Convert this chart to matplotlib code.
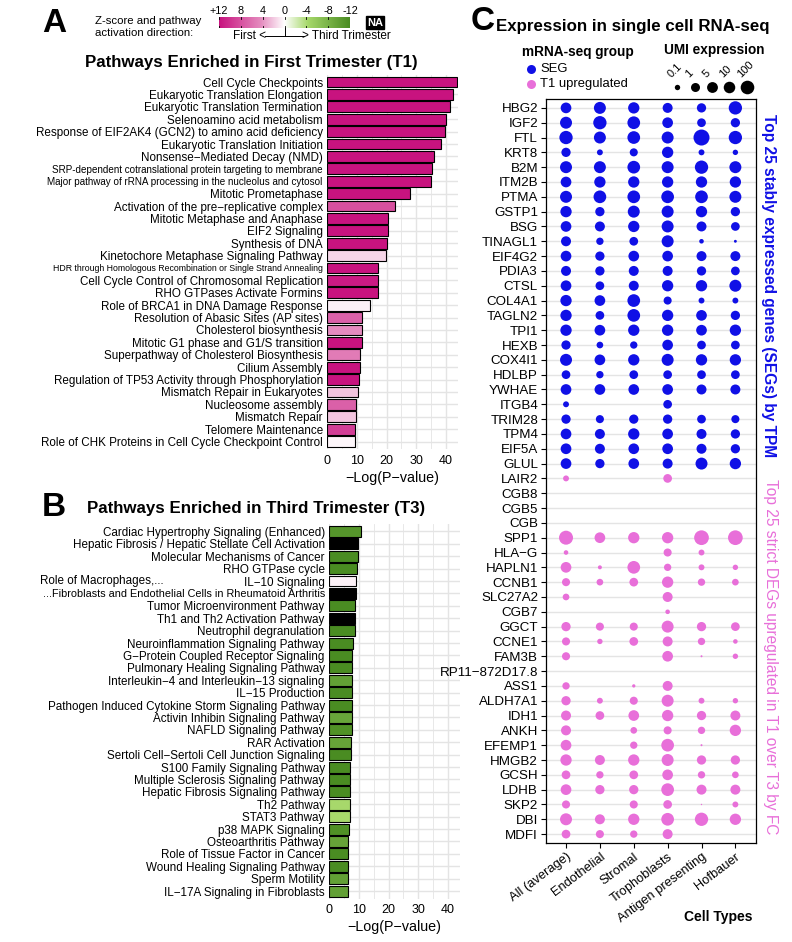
"""
Pathway enrichment (T1 / T3) bars and single-cell dot plot, rebuilt with matplotlib.
"""
import numpy as np
import matplotlib
matplotlib.use("Agg")
import matplotlib.pyplot as plt
from matplotlib import transforms
from matplotlib.colors import LinearSegmentedColormap

plt.rcParams["font.family"] = ["Liberation Sans", "DejaVu Sans"]

W, H = 792, 942
nan = np.nan

# ---- data: panel A (first trimester pathways) ----
t1_pathways = [
    "Cell Cycle Checkpoints",
    "Eukaryotic Translation Elongation",
    "Eukaryotic Translation Termination",
    "Selenoamino acid metabolism",
    "Response of EIF2AK4 (GCN2) to amino acid deficiency",
    "Eukaryotic Translation Initiation",
    "Nonsense\u2212Mediated Decay (NMD)",
    "SRP-dependent cotranslational protein targeting to membrane",
    "Major pathway of rRNA processing in the nucleolus and cytosol",
    "Mitotic Prometaphase",
    "Activation of the pre\u2212replicative complex",
    "Mitotic Metaphase and Anaphase",
    "EIF2 Signaling",
    "Synthesis of DNA",
    "Kinetochore Metaphase Signaling Pathway",
    "HDR through Homologous Recombination or Single Strand Annealing",
    "Cell Cycle Control of Chromosomal Replication",
    "RHO GTPases Activate Formins",
    "Role of BRCA1 in DNA Damage Response",
    "Resolution of Abasic Sites (AP sites)",
    "Cholesterol biosynthesis",
    "Mitotic G1 phase and G1/S transition",
    "Superpathway of Cholesterol Biosynthesis",
    "Cilium Assembly",
    "Regulation of TP53 Activity through Phosphorylation",
    "Mismatch Repair in Eukaryotes",
    "Nucleosome assembly",
    "Mismatch Repair",
    "Telomere Maintenance",
    "Role of CHK Proteins in Cell Cycle Checkpoint Control",
]
t1_logp = [43.8, 42.2, 41.3, 40.0, 39.5, 38.3, 35.8, 35.4, 34.9, 28.0,
           23.0, 20.4, 20.4, 20.1, 19.9, 17.1, 17.1, 17.0, 14.5, 11.8,
           11.8, 11.6, 11.2, 11.0, 10.7, 10.5, 9.7, 9.6, 9.4, 9.3]
t1_zscore = [12, 12, 12, 12, 12, 12, 12, 12, 12, 12,
             8.1, 12, 12, 12, 1.5, 12, 11.5, 12, 0.65, 7.1,
             4.4, 12, 5.4, 12, 12, 2.2, 7.1, 2.2, 9.2, 0.3]

# ---- data: panel B (third trimester pathways), None = NA ----
t3_pathways = [
    "Cardiac Hypertrophy Signaling (Enhanced)",
    "Hepatic Fibrosis / Hepatic Stellate Cell Activation",
    "Molecular Mechanisms of Cancer",
    "RHO GTPase cycle",
    "IL\u221210 Signaling",
    "...Fibroblasts and Endothelial Cells in Rheumatoid Arthritis",
    "Tumor Microenvironment Pathway",
    "Th1 and Th2 Activation Pathway",
    "Neutrophil degranulation",
    "Neuroinflammation Signaling Pathway",
    "G\u2212Protein Coupled Receptor Signaling",
    "Pulmonary Healing Signaling Pathway",
    "Interleukin\u22124 and Interleukin\u221213 signaling",
    "IL\u221215 Production",
    "Pathogen Induced Cytokine Storm Signaling Pathway",
    "Activin Inhibin Signaling Pathway",
    "NAFLD Signaling Pathway",
    "RAR Activation",
    "Sertoli Cell\u2212Sertoli Cell Junction Signaling",
    "S100 Family Signaling Pathway",
    "Multiple Sclerosis Signaling Pathway",
    "Hepatic Fibrosis Signaling Pathway",
    "Th2 Pathway",
    "STAT3 Pathway",
    "p38 MAPK Signaling",
    "Osteoarthritis Pathway",
    "Role of Tissue Factor in Cancer",
    "Wound Healing Signaling Pathway",
    "Sperm Motility",
    "IL\u221217A Signaling in Fibroblasts",
]
t3_logp = [10.6, 9.8, 9.8, 9.5, 9.1, 9.1, 8.9, 8.9, 8.8, 8.2,
           7.8, 7.8, 7.8, 7.8, 7.8, 7.8, 7.6, 7.3, 7.3, 7.2,
           7.2, 7.0, 7.0, 7.0, 6.7, 6.5, 6.3, 6.3, 6.3, 6.3]
t3_zscore = [-11, None, -12, -12, 0.5, None, -12, None, -12, -12,
             -12, -12, -10, -12, -12, -9.4, -11.5, -9.6, -12, -12,
             -12, -12, -4.3, -4.3, -11.5, -9.6, -12, -12, -10, -10]

# ---- data: panel C (UMI expression per cell type, nan = not detected) ----
cell_types = ["All (average)", "Endothelial", "Stromal", "Trophoblasts",
              "Antigen presenting", "Hofbauer"]
seg_genes = ["HBG2", "IGF2", "FTL", "KRT8", "B2M", "ITM2B", "PTMA", "GSTP1",
             "BSG", "TINAGL1", "EIF4G2", "PDIA3", "CTSL", "COL4A1", "TAGLN2",
             "TPI1", "HEXB", "COX4I1", "HDLBP", "YWHAE", "ITGB4", "TRIM28",
             "TPM4", "EIF5A", "GLUL"]
seg_umi = [
    [4.4, 16, 8, 2.3, 1.25, 70],
    [16, 70, 35, 4.4, 0.8, 1.25],
    [70, 16, 35, 16, 2300, 70],
    [1.25, 0.13, 0.5, 8, 0.13, 0.1],
    [16, 16, 35, 16, 70, 16],
    [4.4, 8, 8, 8, 8, 8],
    [16, 35, 35, 35, 35, 16],
    [8, 1.25, 16, 16, 8, 1.25],
    [4.4, 2.3, 8, 16, 2.3, 0.8],
    [2.3, 0.3, 0.8, 16, 0.07, 0.04],
    [4.4, 1.25, 4.4, 4.4, 2.3, 2.3],
    [2.3, 1.25, 2.3, 2.3, 1.25, 0.8],
    [4.4, 0.8, 2.3, 8, 8, 16],
    [8, 4.4, 35, 0.5, 0.13, 0.13],
    [8, 0.8, 35, 8, 4.4, 1.25],
    [8, 4.4, 8, 8, 4.4, 8],
    [1.25, 0.2, 0.3, 4.4, 0.8, 0.8],
    [16, 4.4, 8, 16, 8, 8],
    [0.8, 0.3, 0.8, 0.8, 0.8, 0.8],
    [4.4, 4.4, 4.4, 4.4, 2.3, 2.3],
    [0.13, nan, nan, 0.8, nan, nan],
    [1.25, 0.5, 1.25, 1.25, 0.8, 0.5],
    [4.4, 2.3, 8, 4.4, 2.3, 1.25],
    [4.4, 2.3, 4.4, 4.4, 2.3, 1.25],
    [4.4, 1.25, 4.4, 2.3, 16, 8],
]
deg_genes = ["LAIR2", "CGB8", "CGB5", "CGB", "SPP1", "HLA\u2212G", "HAPLN1",
             "CCNB1", "SLC27A2", "CGB7", "GGCT", "CCNE1", "FAM3B",
             "RP11\u2212872D17.8", "ASS1", "ALDH7A1", "IDH1", "ANKH", "EFEMP1",
             "HMGB2", "GCSH", "LDHB", "SKP2", "DBI", "MDFI"]
deg_umi = [
    [0.13, nan, nan, 0.8, nan, nan],
    [nan, nan, nan, nan, nan, nan],
    [nan, nan, nan, nan, nan, nan],
    [nan, nan, nan, nan, nan, nan],
    [160, 4.4, 8, 8, 400, 400],
    [0.07, nan, nan, 0.5, 0.13, nan],
    [4.4, 0.056, 35, 0.3, 0.13, 0.1],
    [0.5, 0.2, 0.8, 8, 0.3, 0.2],
    [0.2, nan, nan, 2.3, nan, nan],
    [nan, nan, nan, 0.07, nan, nan],
    [1.25, 0.5, 0.5, 16, 1.25, 0.8],
    [0.5, 0.1, 0.8, 2.3, 0.3, 0.07],
    [0.5, nan, nan, 4.4, 0.033, 0.1],
    [nan, nan, nan, nan, nan, nan],
    [0.3, nan, 0.045, 2.3, nan, nan],
    [1.25, 0.13, 0.5, 16, 0.13, 0.1],
    [2.3, 0.8, 4.4, 8, 1.25, 2.3],
    [2.3, nan, 0.2, 0.5, 0.3, 8],
    [4.4, nan, 0.3, 35, 0.033, nan],
    [8, 2.3, 8, 16, 1.25, 1.25],
    [0.8, 0.3, 0.8, 4.4, 0.3, 0.2],
    [4.4, 1.25, 1.25, 35, 2.3, 2.3],
    [0.5, nan, 0.5, 0.8, 0.03, 0.13],
    [16, 2.3, 8, 35, 70, 8],
    [0.8, 0.5, 0.3, 2.3, nan, nan],
]
umi_breaks = [0.1, 1, 5, 10, 100]
zscore_ticks = [12, 8, 4, 0, -4, -8, -12]

# ---- styles ----
SEG_COLOR = "#1010e6"
T1_COLOR = "#e86fd9"
GRID = "#e4e4e4"
zcmap = LinearSegmentedColormap.from_list(
    "zscore", [(0, "#4a8c22"), (0.32, "#a6d86a"), (0.5, "#ffffff"),
               (0.68, "#e58cbf"), (1, "#c8137f")])
small_labels = {
    "SRP-dependent cotranslational protein targeting to membrane": 7.1,
    "Major pathway of rRNA processing in the nucleolus and cytosol": 7.1,
    "HDR through Homologous Recombination or Single Strand Annealing": 6.3,
    "...Fibroblasts and Endothelial Cells in Rheumatoid Arthritis": 7.8,
}


def px_axes(fig, x0, y0, x1, y1):
    """Axes from pixel box (top-left origin)."""
    return fig.add_axes([x0 / W, 1 - y1 / H, (x1 - x0) / W, (y1 - y0) / H])


def z_color(z):
    if z is None:
        return "black"
    return zcmap((np.clip(z, -12, 12) + 12) / 24)


def umi_size(umi):
    """UMI value -> scatter marker area (pt^2)."""
    area_px = np.maximum(81 + 52 * np.log10(umi), 1.5)
    return area_px * (72 / 100) ** 2


def pathway_panel(ax, names, logp, zs):
    y = np.arange(len(names))
    ax.barh(y, logp, height=0.88, color=[z_color(z) for z in zs],
            edgecolor="black", linewidth=0.8, zorder=3)
    ax.set_ylim(len(names) - 0.4, -0.6)
    ax.set_xlim(0, 44)
    ax.set_xticks([0, 10, 20, 30, 40])
    ax.set_xticks([5, 15, 25, 35], minor=True)
    ax.set_yticks(y)
    ax.set_yticklabels(names, fontsize=8.4)
    for lab in ax.get_yticklabels():
        if lab.get_text() in small_labels:
            lab.set_fontsize(small_labels[lab.get_text()])
    ax.set_axisbelow(True)
    ax.grid(which="major", color=GRID, linewidth=1.0)
    ax.grid(which="minor", axis="x", color=GRID, linewidth=0.6)
    for sp in ax.spines.values():
        sp.set_visible(False)
    ax.tick_params(which="both", length=0, pad=3)
    ax.tick_params(axis="x", labelsize=9, pad=4)
    ax.set_xlabel("\u2212Log(P\u2212value)", fontsize=10.3, labelpad=3)


fig = plt.figure(figsize=(W / 100, H / 100), dpi=100)

# ---- panel A ----
axA = px_axes(fig, 327, 74.6, 458, 449)
pathway_panel(axA, t1_pathways, t1_logp, t1_zscore)

# ---- panel B ----
axB = px_axes(fig, 329, 524, 460, 898.5)
pathway_panel(axB, t3_pathways, t3_logp, t3_zscore)
blend = transforms.blended_transform_factory(fig.transFigure, axB.transData)
axB.text(40 / W, t3_pathways.index("IL\u221210 Signaling"), "Role of Macrophages,...",
         transform=blend, ha="left", va="center", fontsize=8.4)

# ---- colour key for z-score ----
axK = px_axes(fig, 219, 17, 350, 28)
grad = np.linspace(12, -12, 256)[None, :]
axK.imshow(grad, cmap=zcmap, vmin=-12, vmax=12, aspect="auto",
           extent=[12, -12, 0, 1])
axK.set_xlim(12, -12)
axK.set_ylim(0, 1)
for z in zscore_ticks:
    axK.plot([z, z], [0.78, 1.0], color="black", lw=0.6)
    axK.plot([z, z], [0.0, 0.22], color="black", lw=0.6)
axK.set_xticks(zscore_ticks)
axK.set_xticklabels(["+12" if z == 12 else str(z) for z in zscore_ticks], fontsize=7.8)
axK.xaxis.set_ticks_position("top")
axK.tick_params(axis="x", length=0, pad=1)
axK.set_yticks([])
for sp in axK.spines.values():
    sp.set_visible(False)

# ---- panel C dot plot ----
axC = px_axes(fig, 545.7, 99, 755.7, 843)
genes = seg_genes + deg_genes
umi = np.array(seg_umi + deg_umi, dtype=float)
group = np.array([0] * len(seg_genes) + [1] * len(deg_genes))
rows, cols = np.meshgrid(np.arange(len(genes)), np.arange(len(cell_types)), indexing="ij")
ok = ~np.isnan(umi)
dot_colors = np.where(group[rows[ok]] == 0, SEG_COLOR, T1_COLOR)
axC.set_axisbelow(True)
for r in range(len(genes)):
    axC.axhline(r, color=GRID, lw=1.0, zorder=0)
axC.scatter(cols[ok] + 1, rows[ok], s=umi_size(umi[ok]), c=list(dot_colors),
            linewidths=0, zorder=3)
axC.set_xlim(0.4, len(cell_types) + 0.6)
axC.set_ylim(len(genes) - 0.4, -0.6)
axC.set_yticks(np.arange(len(genes)))
axC.set_yticklabels(genes, fontsize=9.6)
axC.set_xticks(np.arange(1, len(cell_types) + 1))
axC.set_xticklabels(cell_types, fontsize=9.3, rotation=37, ha="right", va="top",
                    rotation_mode="anchor")
axC.tick_params(length=3.5, width=0.8, pad=2)
for sp in axC.spines.values():
    sp.set_linewidth(0.9)
side = transforms.blended_transform_factory(axC.transAxes, axC.transData)
axC.text(1.063, (len(seg_genes) - 1) / 2, "Top 25 stably expressed genes (SEGs) by TPM",
         transform=side, rotation=270, ha="center", va="center", fontsize=11.2,
         fontweight="bold", color=SEG_COLOR)
axC.text(1.07, len(seg_genes) + (len(deg_genes) - 1) / 2,
         "Top 25 strict DEGs upregulated in T1 over T3 by FC",
         transform=side, rotation=270, ha="center", va="center", fontsize=11.2,
         color=T1_COLOR)

# ---- overlay for titles, letters and legends (pixel coordinates) ----
ov = fig.add_axes([0, 0, 1, 1])
ov.set_xlim(0, W)
ov.set_ylim(H, 0)
ov.axis("off")

for letter, x, y in [("A", 54, 23), ("B", 54, 508), ("C", 483, 22)]:
    ov.text(x, y, letter, fontsize=24, fontweight="bold", ha="center", va="center")

ov.text(251, 62, "Pathways Enriched in First Trimester (T1)", fontsize=12.2,
        fontweight="bold", ha="center", va="center")
ov.text(256, 509, "Pathways Enriched in Third Trimester (T3)", fontsize=12.2,
        fontweight="bold", ha="center", va="center")
ov.text(496, 26, "Expression in single cell RNA-seq", fontsize=12.2,
        fontweight="bold", ha="left", va="center")

# z-score key annotations
ov.text(95, 27, "Z-score and pathway\nactivation direction:", fontsize=8.2,
        ha="left", va="center", linespacing=1.3)
ov.text(375, 22.5, "NA", fontsize=8, fontweight="bold", color="white",
        ha="center", va="center",
        bbox=dict(boxstyle="square,pad=0.12", fc="black", ec="black"))
ov.text(266, 36, "First <", fontsize=8.5, ha="right", va="center")
ov.text(302, 36, "> Third Trimester", fontsize=8.5, ha="left", va="center")
ov.plot([265, 304], [36, 36], color="black", lw=0.7)
ov.plot([285, 285], [28, 36], color="black", lw=0.7)

# mRNA-seq group legend
ov.text(522, 52, "mRNA-seq group", fontsize=9.8, fontweight="bold", ha="left", va="center")
for (label, color), y in zip([("SEG", SEG_COLOR), ("T1 upregulated", T1_COLOR)], [68.5, 83.5]):
    ov.scatter([531], [y], s=(9 * 0.72) ** 2, color=color, linewidths=0)
    ov.text(540, y, label, fontsize=9.4, ha="left", va="center")

# UMI size legend
ov.text(664, 50, "UMI expression", fontsize=9.8, fontweight="bold", ha="left", va="center")
for b, x in zip(umi_breaks, [677, 694.5, 712, 728.5, 746.5]):
    ov.scatter([x], [86.5], s=umi_size(b), color="black", linewidths=0)
    ov.text(x - 4, 79, f"{b:g}", fontsize=8, rotation=45, ha="left", va="bottom",
            rotation_mode="anchor")

ov.text(753, 917, "Cell Types", fontsize=10, fontweight="bold", ha="right", va="center")

fig.savefig("out.png", dpi=100)
